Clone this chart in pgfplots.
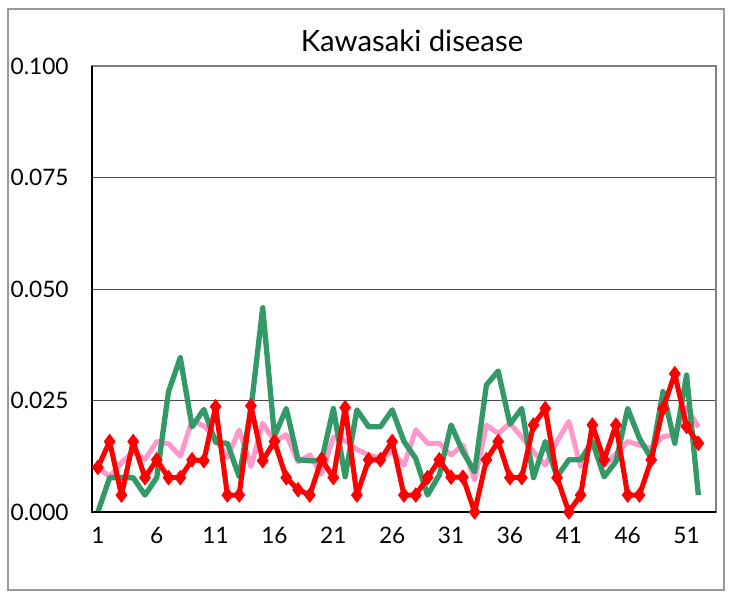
\documentclass[border=0pt]{standalone}
\usepackage{pgfplots}
\pgfplotsset{compat=1.18}
\usepackage{fontspec}
\setmainfont{Lato}
\definecolor{sgreen}{HTML}{339966}
\definecolor{spink}{HTML}{FF99CC}
\begin{document}
\begin{tikzpicture}[x=0.75pt,y=0.75pt]
\useasboundingbox (0,0) rectangle (733,596);
\draw[gray!80, line width=0.9pt] (8,6) rectangle (724,587);
\node[font=\fontsize{22}{24}\selectfont, anchor=base] at (412,544) {Kawasaki disease};
\begin{axis}[
  at={(69pt,63pt)}, anchor=south west,
  scale only axis, width=468pt, height=334.5pt,
  xmin=0.5, xmax=53.5, ymin=0, ymax=0.1,
  xtick={1,6,...,51}, xticklabels={1,6,11,16,21,26,31,36,41,46,51},
  major x tick style={draw=none},
  extra x ticks={5.5,10.5,...,50.5}, extra x tick labels={},
  extra x tick style={major tick length=6pt, tick style={black, line width=0.6pt}, tickwidth=6pt},
  ytick={0,0.025,0.05,0.075,0.1},
  major y tick style={draw=none},
  ymajorgrids, grid style={black!70, line width=0.6pt},
  y tick label style={/pgf/number format/.cd, fixed, fixed zerofill, precision=3, /tikz/.cd, font=\fontsize{17}{18}\selectfont, xshift=-14pt},
  x tick label style={font=\fontsize{17}{18}\selectfont, yshift=-8pt},
  /pgf/number format/assume math mode=true,
  scaled y ticks=false,
  axis line style={draw=gray, line width=1.5pt},
  clip=false,
]
\addplot[spink, line width=3.8pt, line join=round] table {
1 0.0100
2 0.0079
3 0.0110
4 0.0135
5 0.0118
6 0.0158
7 0.0153
8 0.0125
9 0.0205
10 0.0193
11 0.0165
12 0.0122
13 0.0184
14 0.0102
15 0.0199
16 0.0158
17 0.0173
18 0.0113
19 0.0128
20 0.0085
21 0.0168
22 0.0160
23 0.0140
24 0.0128
25 0.0120
26 0.0135
27 0.0105
28 0.0184
29 0.0154
30 0.0154
31 0.0128
32 0.0150
33 0.0072
34 0.0195
35 0.0176
36 0.0199
37 0.0168
38 0.0135
39 0.0105
40 0.0158
41 0.0203
42 0.0102
43 0.0160
44 0.0105
45 0.0130
46 0.0158
47 0.0150
48 0.0143
49 0.0169
50 0.0173
51 0.0235
52 0.0190
};
\addplot[sgreen, line width=4pt, line join=round] table {
1 0.0
2 0.0077
3 0.0077
4 0.0077
5 0.0038
6 0.0077
7 0.0270
8 0.0346
9 0.0191
10 0.0230
11 0.0156
12 0.0154
13 0.0079
14 0.0230
15 0.0458
16 0.0170
17 0.0232
18 0.0117
19 0.0115
20 0.0115
21 0.0232
22 0.0079
23 0.0229
24 0.0191
25 0.0191
26 0.0229
27 0.0158
28 0.0120
29 0.0038
30 0.0083
31 0.0195
32 0.0135
33 0.0090
34 0.0285
35 0.0316
36 0.0197
37 0.0232
38 0.0077
39 0.0158
40 0.0079
41 0.0117
42 0.0117
43 0.0158
44 0.0079
45 0.0113
46 0.0232
47 0.0165
48 0.0120
49 0.0270
50 0.0154
51 0.0307
52 0.0038
};
\addplot[red, line width=3.8pt, line join=round, mark=diamond*, mark size=5.5pt, mark options={solid, line width=0.5pt, fill=red}] table {
1 0.0100
2 0.0158
3 0.0038
4 0.0158
5 0.0077
6 0.0117
7 0.0077
8 0.0077
9 0.0117
10 0.0115
11 0.0236
12 0.0038
13 0.0038
14 0.0238
15 0.0115
16 0.0158
17 0.0077
18 0.0050
19 0.0038
20 0.0118
21 0.0077
22 0.0234
23 0.0038
24 0.0117
25 0.0117
26 0.0158
27 0.0038
28 0.0038
29 0.0077
30 0.0117
31 0.0078
32 0.0078
33 0.0
34 0.0117
35 0.0158
36 0.0077
37 0.0077
38 0.0195
39 0.0232
40 0.0077
41 0.0
42 0.0038
43 0.0195
44 0.0117
45 0.0195
46 0.0038
47 0.0038
48 0.0117
49 0.0232
50 0.0310
51 0.0192
52 0.0154
};
\draw[black, line width=1.5pt] (rel axis cs:0,1) -- (rel axis cs:0,0) -- (rel axis cs:1,0);
\end{axis}
\end{tikzpicture}
\end{document}
